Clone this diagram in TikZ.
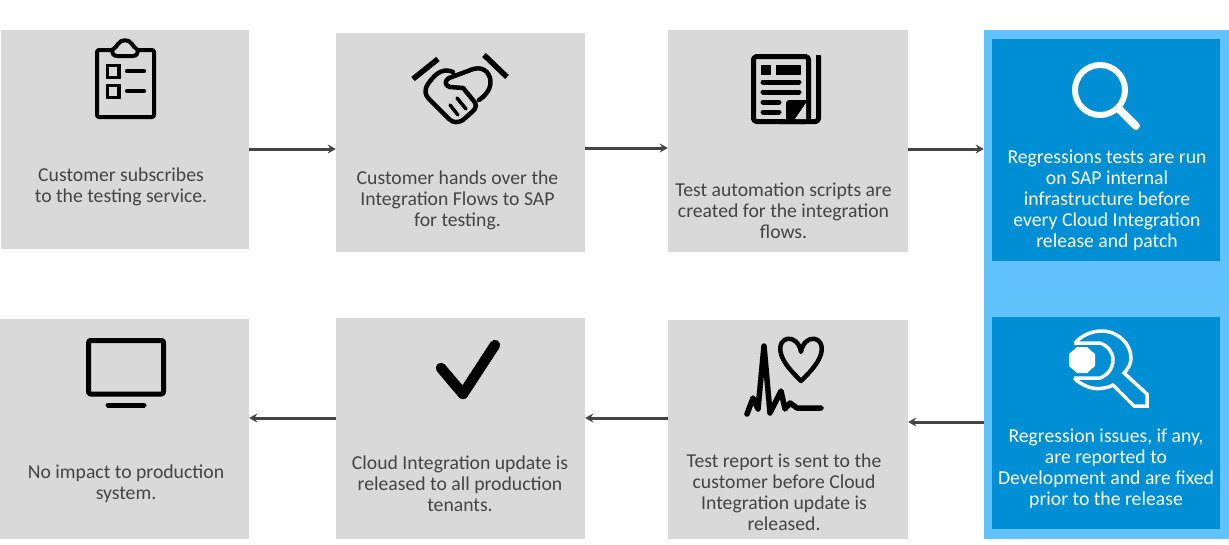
\documentclass[tikz,border=0pt]{standalone}
\usepackage{fontspec}
\setmainfont{Carlito}
\usetikzlibrary{arrows.meta}
\definecolor{boxgray}{HTML}{D9D9D9}
\definecolor{skyblue}{HTML}{62C3FC}
\definecolor{sapblue}{HTML}{008FD5}
\definecolor{inkgray}{HTML}{444444}
\tikzset{
    every edge/.append style={line width=3pt, color=inkgray, -{Stealth[length=8pt,width=9pt]}}
}
\tikzset{
    graybox/.style={rectangle, fill=boxgray, inner sep=0pt},
    bluebox/.style={rectangle, fill=sapblue, inner sep=0pt},
    grayline/.style={align=center, text=inkgray, font=\fontsize{19.7}{21}\selectfont},
    whiteline/.style={align=center, text=white, font=\fontsize{19.7}{21}\selectfont},
    blackicon/.style={draw=black, line width=4pt, line cap=round, line join=round},
    whiteicon/.style={draw=white, line width=3.5pt, line join=miter}
}

\begin{document}
\begin{tikzpicture}[x=1pt, y=-1pt]
	\useasboundingbox (0,0) rectangle (1229,544);
	\node (1) [graybox, minimum width=248pt, minimum height=219pt] at (125, 139.5) {};
	\node (2) [graybox, minimum width=249pt, minimum height=219pt] at (460.5, 142.5) {};
	\node (3) [graybox, minimum width=240pt, minimum height=222pt] at (788, 141) {};
	\node (panel) [rectangle, fill=skyblue, inner sep=0pt, minimum width=245pt, minimum height=509pt] at (1106.5, 284.5) {};
	\node (run) [bluebox, minimum width=228pt, minimum height=222pt] at (1106, 150) {};
	\node (fix) [bluebox, minimum width=228pt, minimum height=212pt] at (1106, 423) {};
	\node (4) [graybox, minimum width=240pt, minimum height=219pt] at (788, 429.5) {};
	\node (5) [graybox, minimum width=249pt, minimum height=221pt] at (460.5, 428.5) {};
	\node (6) [graybox, minimum width=249pt, minimum height=220pt] at (124.5, 429) {};

	\node (t1) [grayline] at (121, 186.5) {Customer subscribes\\to the testing service.};
	\node (t2) [grayline] at (457.5, 200.5) {Customer hands over the\\Integration Flows to SAP\\for testing.};
	\node (t3) [grayline] at (783.5, 210.5) {Test automation scripts are\\created for the integration\\flows.};
	\node (t4) [whiteline] at (1107, 200) {Regressions tests are run\\on SAP internal\\infrastructure before\\every Cloud Integration\\release and patch};
	\node (t5) [whiteline] at (1106, 468.5) {Regression issues, if any,\\are reported to\\Development and are fixed\\prior to the release};
	\node (t6) [grayline] at (784, 492) {Test report is sent to the\\customer before Cloud\\Integration update is\\released.};
	\node (t7) [grayline] at (460, 483.5) {Cloud Integration update is\\released to all production\\tenants.};
	\node (t8) [grayline] at (126, 483.5) {No impact to production\\system.};

	\draw ([yshift=-9.5pt]1.east) edge ([yshift=-6.5pt]2.west);
	\draw ([yshift=-5.5pt]2.east) edge ([yshift=-7pt]3.west);
	\draw ([yshift=-8pt]3.east) edge ([yshift=135.5pt]panel.west);
	\draw ([yshift=-137.5pt]panel.west) edge ([yshift=7.5pt]4.east);
	\draw ([yshift=11.5pt]4.west) edge ([yshift=10.5pt]5.east);
	\draw ([yshift=10.5pt]5.west) edge ([yshift=11pt]6.east);

	% clipboard
	\draw [blackicon, line width=4pt, rounded corners=2pt] (112,50) -- (97,50) -- (97,117) -- (154,117) -- (154,50) -- (138,50);
	\draw [blackicon, line width=4pt] (112,50) .. controls (112,53) and (113,56) .. (117,56) -- (133,56) .. controls (137,56) and (138,53) .. (138,50) .. controls (135,48) and (133,46) .. (132,44) .. controls (129,39) and (121,39) .. (118,44) .. controls (117,46) and (115,48) .. (112,50);
	\draw [blackicon, line width=3.5pt, line cap=butt, line join=miter] (107.5,65.5) rectangle (119,77.5);
	\draw [blackicon, line width=3.5pt, line cap=butt, line join=miter] (107.5,85.5) rectangle (119,97.5);
	\draw [blackicon, line width=4.5pt] (127,71) -- (144,71);
	\draw [blackicon, line width=4.5pt] (127,91) -- (144,91);

	% handshake
	\draw [blackicon, line width=5.5pt, line cap=butt] (413,79) -- (438,59);
	\draw [blackicon, line width=5.5pt, line cap=butt] (484,55) -- (507,77);
	\draw [blackicon, line width=4.5pt] (453,72) .. controls (444,68) and (436,72) .. (428,84) .. controls (424,90) and (425,95) .. (429,99) -- (449,119) .. controls (453,123) and (458,123) .. (463,120) -- (472,112) .. controls (477,108) and (477,104) .. (473,100) -- (463,88) -- (450,87) .. controls (444,86) and (445,80) .. (449,78) -- (468,71) .. controls (478,66) and (487,68) .. (490,78) .. controls (492,86) and (488,94) .. (479,100);
	\draw [blackicon, line width=3.5pt] (450,105) -- (458,115);
	\draw [blackicon, line width=3.5pt] (457,98) -- (466,109);

	% document
	\draw [blackicon, line width=5pt, rounded corners=3pt, line cap=butt] (753.5,56.5) rectangle (808.5,121.5);
	\draw [blackicon, line width=5pt, rounded corners=3pt, line cap=butt] (818.5,55) -- (818.5,121.5) -- (780,121.5);
	\fill (761,65) rectangle (771,75);
	\fill (776,65) rectangle (801,75);
	\draw [blackicon, line width=5pt] (763,82) -- (799,82);
	\draw [blackicon, line width=5pt] (763,92) -- (799,92);
	\draw [blackicon, line width=5pt] (763,102) -- (779,102);
	\draw [blackicon, line width=5pt] (763,112) -- (779,112);
	\fill [rounded corners=3pt] (786,121) -- (786,100) -- (808,100) -- (808,121) -- cycle;
	\fill [boxgray] (806,103) -- (806,119) -- (795,119) -- cycle;

	% magnifier
	\draw [whiteicon, line width=6pt] (1100,90) circle (25);
	\draw [whiteicon, line width=8pt, line cap=round] (1120,110) -- (1136,126);

	% wrench
	\fill [white] (1087,347) -- (1077,347) -- (1069,354) -- (1069,366) -- (1077,373) -- (1087,373) -- (1095,366) -- (1095,354) -- cycle;
	\draw [whiteicon] (1075,343) .. controls (1082,335) and (1092,331) .. (1102,331) .. controls (1118,331) and (1131,344) .. (1131,358) .. controls (1131,364) and (1128,369) .. (1124,373) -- (1147,394) -- (1147,406) -- (1134,406) -- (1113,385) .. controls (1106,389) and (1094,390) .. (1086,386) .. controls (1081,384) and (1077,381) .. (1074,378);
	\draw [whiteicon] (1074,343) -- (1100,343) .. controls (1108,346) and (1113,352) .. (1113,360) .. controls (1113,368) and (1108,375) .. (1100,378) -- (1074,378);

	% heart and pulse
	\draw [blackicon, line width=4.5pt] (801,352) .. controls (804,333) and (826,335) .. (821,354) .. controls (818,364) and (809,373) .. (801,381) .. controls (793,373) and (784,364) .. (781,354) .. controls (776,335) and (798,333) .. (801,352) -- cycle;
	\draw [blackicon, line width=5.5pt] (747,414) -- (753,398) -- (758,409) -- (764,346) -- (770,413) -- (781,391) -- (785,409) -- (790,403) -- (797,408) -- (821,408);

	% check mark
	\draw [blackicon, line width=10.5pt] (441,368) -- (463,394) -- (495,345);

	% monitor
	\draw [blackicon, line width=5pt, rounded corners=2pt, line cap=butt] (88.5,340.5) rectangle (163.5,394);
	\draw [blackicon, line width=5pt] (108,405) -- (144,405);
\end{tikzpicture}
\end{document}
